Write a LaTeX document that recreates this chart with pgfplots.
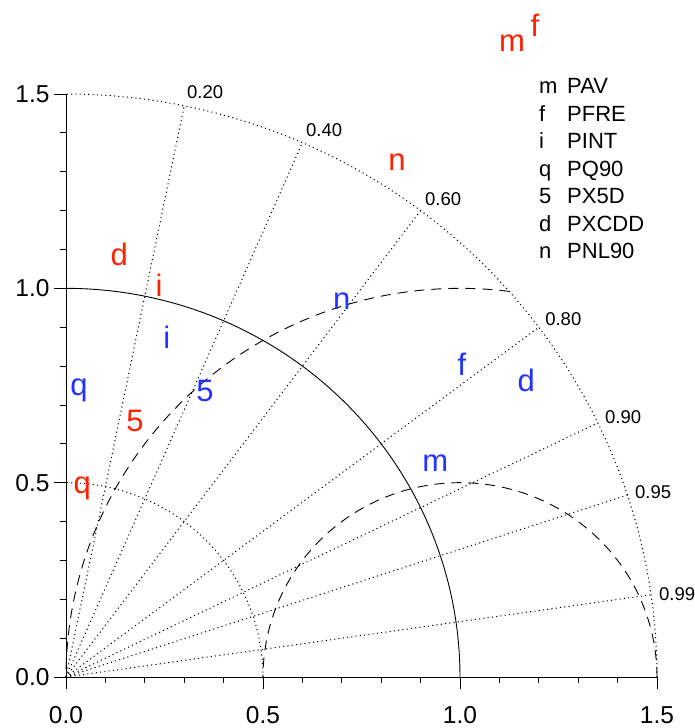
\documentclass[border=0pt]{standalone}
\usepackage{fontspec}
\setmainfont{Liberation Sans}
\usepackage{pgfplots}
\pgfplotsset{compat=1.18}
\definecolor{tred}{RGB}{255,32,0}
\definecolor{tblue}{RGB}{34,51,255}
\newcommand\mkfont{\fontsize{31bp}{31bp}\selectfont}
\newcommand\lgfont{\fontsize{22bp}{22bp}\selectfont}
\newcommand\clfont{\fontsize{18.5bp}{18.5bp}\selectfont}
\pgfplotsset{
  tmk/.style n args={2}{only marks, mark=text, text mark={#1}, text mark as node=true,
    mark options={solid}, color=#2, text mark style={font=\mkfont, text=#2, inner sep=0pt}},
  dotl/.style={black, line width=1bp, dash pattern=on 1.1bp off 3.2bp},
  dashl/.style={black, line width=0.9bp, dash pattern=on 10bp off 7bp},
}
\begin{document}
\begin{tikzpicture}
\begin{axis}[
  at={(0,0)}, anchor=south west,
  scale only axis, width=591bp, height=583bp,
  xmin=0, xmax=1.5, ymin=0, ymax=1.5,
  enlargelimits=false, clip=false,
  axis x line=bottom, axis y line=left,
  axis line style={-, line width=0.8bp, black},
  xtick={0,0.5,1,1.5}, ytick={0,0.5,1,1.5},
  minor tick num=4,
  tick align=outside,
  major tick length=12bp, minor tick length=6bp,
  tick style={line width=0.8bp, black},
  /pgf/number format/assume math mode=true,
  /pgf/number format/.cd, fixed, fixed zerofill, precision=1, /pgfplots/.cd,
  ticklabel style={font=\fontsize{24.5bp}{24.5bp}\selectfont},
  xticklabel style={yshift=-14bp},
  yticklabel style={xshift=-1bp},
]
% reference circles
\addplot[black, line width=0.9bp, domain=0:90, samples=150, variable=\t] ({cos(\t)},{sin(\t)});
\addplot[dotl, domain=0:90, samples=200, variable=\t] ({1.5*cos(\t)},{1.5*sin(\t)});
\addplot[dotl, domain=0:90, samples=80, variable=\t] ({0.5*cos(\t)},{0.5*sin(\t)});
\addplot[dashl, domain=82.82:180, samples=150, variable=\t] ({1+cos(\t)},{sin(\t)});
\addplot[dashl, domain=0:180, samples=120, variable=\t] ({1+0.5*cos(\t)},{0.5*sin(\t)});
% correlation rays
\addplot[dotl] coordinates {(0,0) (0.3,1.4697)};
\addplot[dotl] coordinates {(0,0) (0.6,1.3748)};
\addplot[dotl] coordinates {(0,0) (0.9,1.2)};
\addplot[dotl] coordinates {(0,0) (1.2,0.9)};
\addplot[dotl] coordinates {(0,0) (1.35,0.6538)};
\addplot[dotl] coordinates {(0,0) (1.425,0.4684)};
\addplot[dotl] coordinates {(0,0) (1.485,0.2116)};
% correlation labels
\node[anchor=west, inner sep=0pt, font=\clfont] at (axis cs:0.307,1.505) {0.20};
\node[anchor=west, inner sep=0pt, font=\clfont] at (axis cs:0.609,1.407) {0.40};
\node[anchor=west, inner sep=0pt, font=\clfont] at (axis cs:0.911,1.230) {0.60};
\node[anchor=west, inner sep=0pt, font=\clfont] at (axis cs:1.216,0.921) {0.80};
\node[anchor=west, inner sep=0pt, font=\clfont] at (axis cs:1.368,0.669) {0.90};
\node[anchor=west, inner sep=0pt, font=\clfont] at (axis cs:1.444,0.476) {0.95};
\node[anchor=west, inner sep=0pt, font=\clfont] at (axis cs:1.505,0.214) {0.99};
% red set
\addplot[tmk={m}{tred}] coordinates {(1.132,1.631)};
\addplot[tmk={f}{tred}] coordinates {(1.190,1.678)};
\addplot[tmk={i}{tred}] coordinates {(0.236,1.009)};
\addplot[tmk={q}{tred}] coordinates {(0.041,0.486)};
\addplot[tmk={5}{tred}] coordinates {(0.175,0.659)};
\addplot[tmk={d}{tred}] coordinates {(0.135,1.088)};
\addplot[tmk={n}{tred}] coordinates {(0.840,1.325)};
% blue set
\addplot[tmk={m}{tblue}] coordinates {(0.937,0.551)};
\addplot[tmk={f}{tblue}] coordinates {(1.005,0.805)};
\addplot[tmk={i}{tblue}] coordinates {(0.256,0.875)};
\addplot[tmk={q}{tblue}] coordinates {(0.033,0.738)};
\addplot[tmk={5}{tblue}] coordinates {(0.353,0.736)};
\addplot[tmk={d}{tblue}] coordinates {(1.168,0.764)};
\addplot[tmk={n}{tblue}] coordinates {(0.700,0.967)};
% legend
\node[anchor=base west, inner sep=0pt, font=\lgfont] at (axis cs:1.2005,1.5000) {m};
\node[anchor=base west, inner sep=0pt, font=\lgfont] at (axis cs:1.2716,1.5000) {PAV};
\node[anchor=base west, inner sep=0pt, font=\lgfont] at (axis cs:1.2005,1.4293) {f};
\node[anchor=base west, inner sep=0pt, font=\lgfont] at (axis cs:1.2716,1.4293) {PFRE};
\node[anchor=base west, inner sep=0pt, font=\lgfont] at (axis cs:1.2005,1.3585) {i};
\node[anchor=base west, inner sep=0pt, font=\lgfont] at (axis cs:1.2716,1.3585) {PINT};
\node[anchor=base west, inner sep=0pt, font=\lgfont] at (axis cs:1.2005,1.2878) {q};
\node[anchor=base west, inner sep=0pt, font=\lgfont] at (axis cs:1.2716,1.2878) {PQ90};
\node[anchor=base west, inner sep=0pt, font=\lgfont] at (axis cs:1.2005,1.2170) {5};
\node[anchor=base west, inner sep=0pt, font=\lgfont] at (axis cs:1.2716,1.2170) {PX5D};
\node[anchor=base west, inner sep=0pt, font=\lgfont] at (axis cs:1.2005,1.1463) {d};
\node[anchor=base west, inner sep=0pt, font=\lgfont] at (axis cs:1.2716,1.1463) {PXCDD};
\node[anchor=base west, inner sep=0pt, font=\lgfont] at (axis cs:1.2005,1.0755) {n};
\node[anchor=base west, inner sep=0pt, font=\lgfont] at (axis cs:1.2716,1.0755) {PNL90};
\end{axis}
\pgfresetboundingbox
\path[use as bounding box] (-66bp,-51bp) rectangle (629bp,677bp);
\end{tikzpicture}
\end{document}
